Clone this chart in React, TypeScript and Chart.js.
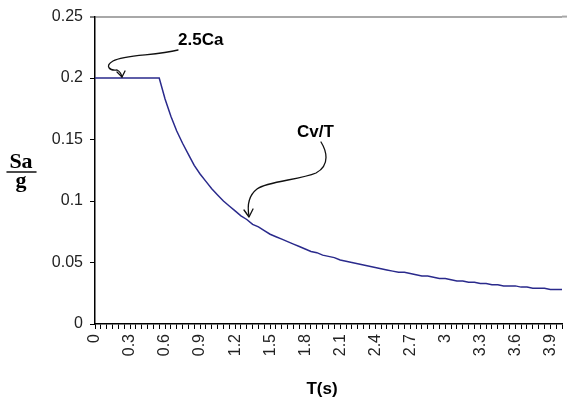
import React, { useEffect, useRef } from "react";
import { Chart, registerables } from "chart.js";

Chart.register(...registerables);

const periods: string[] = [
  "0", "0.05", "0.1", "0.15", "0.2", "0.25", "0.3", "0.35", "0.4", "0.45",
  "0.5", "0.55", "0.6", "0.65", "0.7", "0.75", "0.8", "0.85", "0.9", "0.95",
  "1", "1.05", "1.1", "1.15", "1.2", "1.25", "1.3", "1.35", "1.4", "1.45",
  "1.5", "1.55", "1.6", "1.65", "1.7", "1.75", "1.8", "1.85", "1.9", "1.95",
  "2", "2.05", "2.1", "2.15", "2.2", "2.25", "2.3", "2.35", "2.4", "2.45",
  "2.5", "2.55", "2.6", "2.65", "2.7", "2.75", "2.8", "2.85", "2.9", "2.95",
  "3", "3.05", "3.1", "3.15", "3.2", "3.25", "3.3", "3.35", "3.4", "3.45",
  "3.5", "3.55", "3.6", "3.65", "3.7", "3.75", "3.8", "3.85", "3.9", "3.95",
  "4",
];

const saOverG: number[] = [
  0.2, 0.2, 0.2, 0.2, 0.2, 0.2, 0.2, 0.2, 0.2, 0.2,
  0.2, 0.2, 0.183, 0.169, 0.157, 0.147, 0.138, 0.129, 0.122, 0.116,
  0.11, 0.105, 0.1, 0.096, 0.092, 0.088, 0.085, 0.081, 0.079, 0.076,
  0.073, 0.071, 0.069, 0.067, 0.065, 0.063, 0.061, 0.059, 0.058, 0.056,
  0.055, 0.054, 0.052, 0.051, 0.05, 0.049, 0.048, 0.047, 0.046, 0.045,
  0.044, 0.043, 0.042, 0.042, 0.041, 0.04, 0.039, 0.039, 0.038, 0.037,
  0.037, 0.036, 0.035, 0.035, 0.034, 0.034, 0.033, 0.033, 0.032, 0.032,
  0.031, 0.031, 0.031, 0.03, 0.03, 0.029, 0.029, 0.029, 0.028, 0.028,
  0.028,
];

const yTicks: number[] = [0, 0.05, 0.1, 0.15, 0.2, 0.25];
const labelEvery = 6;

const annotations = {
  id: "annotations",
  afterDraw(chart: any) {
    const ctx = chart.ctx as CanvasRenderingContext2D;
    const area = chart.chartArea;
    ctx.save();

    // extend the top frame line slightly past the plot, as in the reference
    ctx.strokeStyle = "#a8a8a8";
    ctx.lineWidth = 2;
    ctx.beginPath();
    ctx.moveTo(area.right, area.top);
    ctx.lineTo(chart.width, area.top);
    ctx.stroke();

    ctx.fillStyle = "#000";
    ctx.strokeStyle = "#111";
    ctx.lineWidth = 1.3;
    ctx.lineCap = "round";
    ctx.lineJoin = "round";

    ctx.font = 'bold 17px "Liberation Sans", Arial, sans-serif';
    ctx.textAlign = "left";
    ctx.textBaseline = "alphabetic";
    ctx.fillText("2.5Ca", 178, 45);
    ctx.fillText("Cv/T", 297, 137);

    ctx.textAlign = "center";
    ctx.fillText("T(s)", 322, 394);

    // 2.5Ca arrow
    ctx.beginPath();
    ctx.moveTo(178, 50);
    ctx.bezierCurveTo(155, 56, 125, 54, 113, 61);
    ctx.bezierCurveTo(104, 66, 110, 71, 117, 70);
    ctx.quadraticCurveTo(121, 72, 122, 77);
    ctx.stroke();
    ctx.beginPath();
    ctx.moveTo(117, 72);
    ctx.lineTo(122, 77);
    ctx.lineTo(125, 71);
    ctx.stroke();

    // Cv/T arrow
    ctx.beginPath();
    ctx.moveTo(321, 142);
    ctx.bezierCurveTo(326, 150, 331, 165, 316, 173);
    ctx.bezierCurveTo(300, 180, 268, 181, 257, 189);
    ctx.bezierCurveTo(248, 196, 247, 205, 249, 216);
    ctx.stroke();
    ctx.beginPath();
    ctx.moveTo(244, 210);
    ctx.lineTo(249, 217);
    ctx.lineTo(253, 209);
    ctx.stroke();

    // Sa / g
    ctx.font = 'bold 22px "Liberation Serif", "Times New Roman", serif';
    ctx.textAlign = "center";
    ctx.fillText("Sa", 21, 168);
    ctx.fillText("g", 21, 187);
    ctx.beginPath();
    ctx.lineWidth = 1.5;
    ctx.moveTo(7, 172);
    ctx.lineTo(36, 172);
    ctx.stroke();

    ctx.restore();
  },
};

const whiteBg = {
  id: "whiteBg",
  beforeDraw(chart: any) {
    const ctx = chart.ctx as CanvasRenderingContext2D;
    ctx.save();
    ctx.fillStyle = "#fff";
    ctx.fillRect(0, 0, chart.width, chart.height);
    ctx.restore();
  },
};

export default function App() {
  const ref = useRef<HTMLCanvasElement | null>(null);

  useEffect(() => {
    if (!ref.current) return;
    const chart = new Chart(ref.current, {
      type: "line",
      data: {
        labels: periods,
        datasets: [
          {
            data: saOverG,
            borderColor: "#2a2a8c",
            borderWidth: 1.5,
            pointRadius: 0,
            tension: 0,
            fill: false,
          },
        ],
      },
      options: {
        responsive: false,
        animation: false,
        layout: { padding: { top: 16, right: 5, bottom: 0, left: 0 } },
        plugins: {
          legend: { display: false },
          tooltip: { enabled: false },
        },
        scales: {
          x: {
            type: "category",
            offset: false,
            grid: {
              display: true,
              drawOnChartArea: false,
              drawTicks: true,
              tickLength: 5,
              tickColor: "#000",
              tickWidth: 1,
            },
            border: { display: true, color: "#000", width: 1.5 },
            ticks: {
              autoSkip: false,
              minRotation: 90,
              maxRotation: 90,
              padding: 5,
              color: "#222",
              font: { family: '"Liberation Sans", Arial, sans-serif', size: 16 },
              callback: (_v: any, idx: number) =>
                idx % labelEvery === 0 ? periods[idx] : "",
            },
            afterFit: (s: any) => {
              s.height = 77;
              s.paddingLeft = 0;
              s.paddingRight = 0;
            },
          },
          y: {
            min: 0,
            max: 0.25,
            afterBuildTicks: (s: any) => {
              s.ticks = yTicks.map((v) => ({ value: v }));
            },
            grid: {
              drawOnChartArea: true,
              color: (c: any) =>
                c.tick && c.tick.value === 0.25 ? "#a8a8a8" : "rgba(0,0,0,0)",
              lineWidth: (c: any) => (c.tick && c.tick.value === 0.25 ? 2 : 1),
              drawTicks: true,
              tickLength: 5,
              tickColor: "#000",
              tickWidth: 1,
            },
            border: { display: true, color: "#000", width: 1.5 },
            ticks: {
              padding: 7,
              color: "#222",
              font: { family: '"Liberation Sans", Arial, sans-serif', size: 16 },
              callback: (v: any) => String(Number(Number(v).toFixed(2))),
            },
            afterFit: (s: any) => {
              s.width = 95;
            },
          },
        },
      },
      plugins: [whiteBg, annotations],
    });
    return () => chart.destroy();
  }, []);

  return (
    <div style={{ position: "fixed", left: 0, top: 0, width: 567, height: 401 }}>
      <canvas ref={ref} width={567} height={401} style={{ display: "block" }} />
    </div>
  );
}
